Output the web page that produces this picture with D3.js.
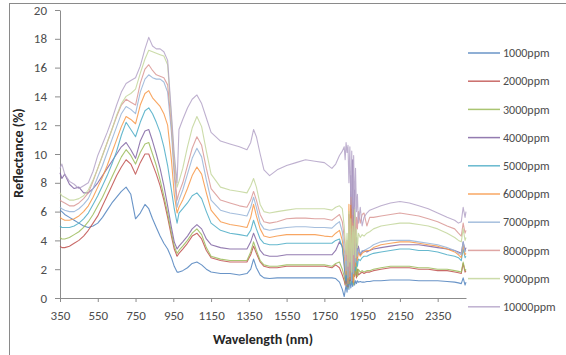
<!DOCTYPE html>
<html>
<head>
<meta charset="utf-8">
<script src="https://cdn.jsdelivr.net/npm/d3@7"></script>
<style>
  body { margin: 0; background: #fff; }
  svg { display: block; font-family: Carlito, Lato, 'Open Sans', sans-serif; }
</style>
</head>
<body>
<svg id="chart" width="566" height="355"></svg>
<script>
// Wavelength samples (nm), shared by every series
const wavelengths = [
  350, 360, 375, 400, 425, 450, 475, 500, 525, 550,
  575, 600, 625, 650, 675, 700, 725, 750, 775, 800,
  820, 840, 860, 880, 900, 920, 940, 955, 970, 980,
  1000, 1025, 1050, 1075, 1100, 1125, 1150, 1200, 1250, 1300,
  1340, 1360, 1375, 1390, 1410, 1430, 1460, 1500, 1550, 1600,
  1650, 1700, 1750, 1790, 1810, 1830, 1845, 1855, 1860, 1865,
  1870, 1875, 1880, 1885, 1890, 1895, 1900, 1905, 1910, 1915,
  1920, 1925, 1930, 1940, 1950, 1960, 1975, 1990, 2010, 2050,
  2100, 2150, 2200, 2250, 2300, 2350, 2400, 2440, 2460, 2475,
  2485, 2495, 2500
];

// Reflectance (%), one array per concentration
const r1000 = [
  6.1, 6.0, 5.8, 5.6, 5.4, 5.2, 5.0, 4.9, 5.0, 5.2,
  5.6, 6.1, 6.6, 7.0, 7.4, 7.7, 7.2, 5.5, 5.9, 6.5,
  6.2, 5.5, 4.9, 4.3, 3.8, 3.4, 2.8, 2.2, 1.8, 1.8,
  1.9, 2.1, 2.4, 2.5, 2.3, 2.0, 1.8, 1.7, 1.7, 1.6,
  1.7, 2.0, 2.7, 2.1, 1.6, 1.4, 1.35, 1.4, 1.4, 1.4,
  1.4, 1.4, 1.4, 1.4, 1.35, 1.1, 0.6, 0.1, 0.5, 0.9,
  0.4, 1.1, 0.6, 1.4, 0.7, 1.2, 0.8, 1.3, 0.9, 1.2,
  1.0, 1.2, 1.1, 1.15, 1.1, 1.1, 1.15, 1.15, 1.2, 1.2,
  1.25, 1.25, 1.25, 1.2, 1.2, 1.2, 1.15, 1.1, 1.05, 1.0,
  1.4, 0.9, 1.1
];
const r2000 = [
  3.6, 3.5, 3.5, 3.6, 3.8, 4.0, 4.3, 4.7, 5.2, 5.7,
  6.4, 7.1, 7.8, 8.5, 9.1, 9.6, 9.3, 8.6, 9.4, 10.0,
  10.0, 9.3, 8.6, 7.8, 6.8, 5.6, 4.3, 3.4, 2.9, 3.1,
  3.4, 3.8, 4.3, 4.5, 4.1, 3.3, 2.8, 2.6, 2.5, 2.5,
  2.5, 3.0, 3.6, 3.1, 2.5, 2.2, 2.1, 2.1, 2.2, 2.2,
  2.2, 2.2, 2.2, 2.1, 2.3, 2.1, 1.6, 1.2, 0.9, 1.6,
  0.8, 2.4, 1.0, 3.8, 1.2, 3.0, 1.1, 2.6, 1.5, 2.2,
  1.4, 2.0, 1.6, 1.7, 1.8, 1.7, 1.8, 1.8, 1.9, 2.0,
  2.1, 2.1, 2.1, 2.0, 2.0, 1.9, 1.9, 1.8, 1.75, 1.7,
  2.4, 1.8, 1.9
];
const r3000 = [
  4.2, 4.1, 4.1, 4.2, 4.4, 4.6, 4.9, 5.3, 5.8, 6.4,
  7.0, 7.7, 8.4, 9.1, 9.8, 10.3, 9.9, 9.3, 10.1, 10.7,
  10.8, 10.0, 9.2, 8.2, 7.1, 5.9, 4.5, 3.6, 3.1, 3.3,
  3.6, 4.0, 4.5, 4.8, 4.4, 3.5, 2.9, 2.7, 2.6, 2.6,
  2.6, 3.2, 3.9, 3.3, 2.6, 2.3, 2.2, 2.2, 2.3, 2.3,
  2.3, 2.3, 2.3, 2.2, 2.4, 2.5, 2.0, 1.5, 1.1, 0.9,
  2.0, 0.7, 4.8, 1.0, 6.2, 1.4, 5.5, 0.9, 3.5, 1.6,
  2.4, 1.5, 2.0, 1.8, 1.9, 1.8, 1.9, 1.9, 2.0, 2.1,
  2.2, 2.2, 2.2, 2.1, 2.1, 2.0, 2.0, 1.9, 1.85, 1.8,
  2.5, 1.9, 2.0
];
const r4000 = [
  8.7, 8.3, 8.6, 7.9, 7.6, 7.7, 7.3, 7.3, 7.6, 8.0,
  8.5, 9.0, 9.5, 10.0, 10.5, 10.8, 10.3, 9.7, 10.9, 11.6,
  11.7, 10.9, 10.0, 9.0, 7.8, 6.4, 4.9, 3.9, 3.4, 3.6,
  3.9, 4.3, 4.8, 5.1, 4.8, 4.1, 3.7, 3.5, 3.4, 3.4,
  3.4, 3.9, 4.5, 4.0, 3.3, 3.0, 2.9, 2.9, 3.0, 3.0,
  3.0, 3.0, 3.0, 3.0, 3.3, 3.9, 3.6, 2.2, 1.5, 1.0,
  2.2, 0.8, 5.8, 1.2, 8.5, 2.0, 9.6, 1.6, 7.5, 2.5,
  4.2, 2.8, 3.6, 3.0, 3.2, 3.3, 3.2, 3.3, 3.4, 3.5,
  3.6, 3.7, 3.7, 3.7, 3.6, 3.5, 3.4, 3.3, 3.2, 3.1,
  3.9, 3.3, 3.5
];
const r5000 = [
  5.0, 4.9, 4.9, 4.9, 5.0, 5.2, 5.5, 5.9, 6.5, 7.1,
  7.8, 8.5, 9.3, 10.2, 11.3, 12.2, 11.7, 11.2, 12.2, 13.0,
  13.2, 12.8, 12.2, 11.5, 10.5, 9.2, 7.5, 6.2, 5.2, 5.9,
  6.2, 6.6, 7.1, 7.3, 6.9, 6.0, 5.2, 4.7, 4.5, 4.4,
  4.3, 4.7, 5.4, 4.8, 4.1, 3.8, 3.7, 3.7, 3.8, 3.8,
  3.8, 3.8, 3.8, 3.8, 4.0, 4.1, 3.5, 2.5, 1.8, 1.2,
  2.6, 0.9, 3.6, 1.5, 4.4, 1.0, 3.8, 1.6, 3.2, 1.9,
  2.8, 2.2, 2.7, 2.6, 2.8, 2.9, 2.9, 3.0, 3.1, 3.2,
  3.3, 3.4, 3.4, 3.3, 3.3, 3.2, 3.0, 2.9, 2.8, 2.6,
  3.4, 2.8, 2.9
];
const r6000 = [
  5.6, 5.5, 5.4, 5.4, 5.5, 5.7, 6.0, 6.4, 7.0, 7.7,
  8.4, 9.2, 10.1, 11.0, 11.9, 12.6, 12.4, 12.1, 13.4, 14.2,
  14.4, 13.9, 13.6, 13.3, 12.8, 12.0, 9.6, 7.2, 5.9, 6.3,
  6.8, 7.6, 8.5, 9.1, 8.6, 7.3, 6.1, 5.3, 5.1, 5.0,
  4.9, 5.6, 6.5, 5.7, 4.8, 4.3, 4.2, 4.3, 4.4, 4.4,
  4.4, 4.4, 4.3, 4.25, 4.5, 4.7, 4.0, 3.0, 2.3, 1.6,
  3.0, 1.0, 6.5, 1.3, 7.0, 1.8, 5.2, 1.1, 4.6, 2.2,
  3.5, 2.6, 3.2, 2.9, 3.1, 3.2, 3.3, 3.3, 3.5, 3.7,
  3.8, 3.9, 3.9, 3.8, 3.7, 3.6, 3.4, 3.2, 3.0, 2.8,
  3.7, 3.0, 3.1
];
const r7000 = [
  6.3, 6.2, 6.1, 6.0, 6.0, 6.2, 6.5, 6.9, 7.6, 8.4,
  9.2, 10.1, 11.0, 11.9, 12.8, 13.3, 13.1, 12.8, 14.3, 15.2,
  15.5, 15.3, 15.2, 15.2, 15.0, 14.3, 11.5, 8.5, 6.3, 6.8,
  7.5, 8.6, 9.7, 10.4, 9.8, 8.2, 6.8, 6.1, 5.9, 5.8,
  5.7, 6.3, 7.0, 6.3, 5.2, 4.8, 4.7, 4.8, 4.9, 4.95,
  4.95, 4.9, 4.9, 4.85, 5.1, 5.3, 4.6, 3.4, 2.8, 1.9,
  3.2, 1.4, 4.4, 1.9, 3.7, 1.2, 4.6, 1.7, 3.9, 2.5,
  3.6, 2.9, 3.4, 3.1, 3.3, 3.3, 3.4, 3.5, 3.7, 3.9,
  4.0, 4.0, 4.0, 3.9, 3.8, 3.7, 3.5, 3.3, 3.1, 3.0,
  3.9, 3.2, 3.3
];
const r8000 = [
  6.8, 6.7, 6.6, 6.4, 6.4, 6.6, 6.9, 7.3, 8.1, 9.0,
  9.9, 10.8, 11.7, 12.6, 13.4, 13.8, 13.6, 13.4, 14.9, 15.9,
  16.2, 15.8, 15.5, 15.4, 15.3, 14.8, 12.0, 9.0, 6.8, 7.3,
  8.0, 9.2, 10.4, 11.2, 10.6, 9.0, 7.6, 6.8, 6.6, 6.4,
  6.3, 6.8, 7.4, 6.8, 5.8, 5.3, 5.2, 5.3, 5.5, 5.55,
  5.55, 5.5, 5.5, 5.4, 5.6, 5.8, 5.3, 4.2, 3.5, 2.6,
  4.0, 2.0, 5.2, 1.5, 4.8, 2.4, 6.2, 2.0, 5.5, 3.2,
  5.6, 4.8, 6.0, 5.2, 5.8, 5.9, 5.0, 5.6, 5.6, 5.7,
  5.8, 5.9, 5.8, 5.7, 5.5, 5.3, 5.0, 4.8, 4.5, 4.3,
  5.2, 4.5, 4.7
];
const r9000 = [
  7.3, 7.1, 7.0, 6.8, 6.8, 6.9, 7.1, 7.5, 8.2, 9.0,
  9.9, 10.8, 11.7, 12.7, 13.5, 14.0, 14.2, 14.5, 15.6, 16.6,
  17.2, 17.1, 17.0, 16.9, 16.8, 16.2, 12.5, 9.5, 7.7, 8.1,
  9.0, 10.5, 11.8, 12.6, 11.9, 10.2, 8.6, 7.7, 7.5, 7.4,
  7.3, 7.8, 8.3, 7.7, 6.5, 6.0, 5.9, 6.0, 6.1, 6.2,
  6.2, 6.2, 6.2, 6.1, 6.3, 6.4, 6.2, 5.0, 4.0, 3.0,
  4.5, 2.2, 6.0, 2.5, 5.5, 1.8, 5.0, 3.0, 6.3, 2.8,
  4.8, 3.5, 4.5, 4.2, 4.4, 4.3, 4.5, 4.6, 4.8, 5.0,
  5.1, 5.2, 5.2, 5.1, 5.0, 4.8, 4.5, 4.2, 4.0, 3.9,
  4.8, 4.0, 4.2
];
const r10000 = [
  9.0, 9.3, 8.6, 8.1, 7.9, 7.6, 7.8, 8.0, 8.8, 9.9,
  10.7, 11.5, 12.4, 13.4, 14.3, 14.9, 15.1, 15.3, 16.1, 17.3,
  18.1, 17.5, 17.3, 17.3, 17.1, 16.5, 12.8, 10.0, 8.0, 11.7,
  12.4, 13.2, 13.8, 14.1, 13.5, 12.5, 11.5, 10.9, 10.7, 10.5,
  10.3, 10.8, 11.7, 11.2, 10.0, 8.9, 8.5, 8.9, 9.2, 9.4,
  9.6, 9.5, 9.4, 9.0, 9.3, 9.9, 10.2, 10.5, 9.6, 10.8,
  10.1, 10.6, 8.0, 10.5, 6.5, 10.2, 5.8, 9.9, 6.2, 9.0,
  6.0, 7.2, 5.2, 6.3, 5.0, 5.6, 5.9, 6.1, 6.2, 6.4,
  6.6, 6.7, 6.6, 6.4, 6.2, 5.9, 5.6, 5.4, 5.2, 5.3,
  6.3, 5.6, 6.0
];

const seriesNames = ['1000ppm', '2000ppm', '3000ppm', '4000ppm', '5000ppm',
                     '6000ppm', '7000ppm', '8000ppm', '9000ppm', '10000ppm'];
const xTicks = [350, 550, 750, 950, 1150, 1350, 1550, 1750, 1950, 2150, 2350];
const yTicks = [0, 2, 4, 6, 8, 10, 12, 14, 16, 18, 20];

// Excel 2007 style series colours
const colors = ['#4f81bd', '#c0504d', '#9bbb59', '#8064a2', '#4bacc6',
                '#f79646', '#95b3d7', '#d99694', '#c3d69b', '#b3a2c7'];

const series = [r1000, r2000, r3000, r4000, r5000, r6000, r7000, r8000, r9000, r10000]
  .map((values, i) => ({ name: seriesNames[i], color: colors[i], values }));

// Select the rendering stage
const stage = d3.select('#chart');

// Scales
const x = d3.scaleLinear().domain([350, 2500]).range([60, 466]);
const y = d3.scaleLinear().domain([0, 20]).range([298, 10]);

// Chart area border
stage.append('rect')
  .attr('x', 9.5).attr('y', 3.5)
  .attr('width', 620).attr('height', 400)
  .style('fill', 'none')
  .style('stroke', '#8a8a8a');

// Axes
const xAxis = stage.append('g')
  .attr('transform', `translate(0,${y(0)})`)
  .call(d3.axisBottom(x).tickValues(xTicks).tickFormat(d3.format('d'))
    .tickSize(4).tickPadding(9).tickSizeOuter(0));

const yAxis = stage.append('g')
  .attr('transform', `translate(${x(350)},0)`)
  .call(d3.axisLeft(y).tickValues(yTicks).tickSize(5).tickPadding(8).tickSizeOuter(0));

[xAxis, yAxis].forEach(a => {
  a.select('.domain').style('stroke', '#8c8c8c');
  a.selectAll('.tick line').style('stroke', '#8c8c8c');
  a.selectAll('.tick text')
    .style('font-family', 'Carlito, Lato, sans-serif')
    .style('font-size', '13px')
    .style('fill', '#4d4d4d');
});

// Axis titles
stage.append('text')
  .attr('x', 263).attr('y', 344)
  .style('text-anchor', 'middle')
  .style('font-size', '14px')
  .style('font-weight', 'bold')
  .style('fill', '#262626')
  .text('Wavelength (nm)');

stage.append('text')
  .attr('transform', 'translate(23,153) rotate(-90)')
  .style('text-anchor', 'middle')
  .style('font-size', '14px')
  .style('font-weight', 'bold')
  .style('fill', '#262626')
  .text('Reflectance (%)');

// Render lines
const line = d3.line()
  .x((d, i) => x(wavelengths[i]))
  .y(d => y(d));

stage.append('g')
  .selectAll('path')
  .data(series)
  .join('path')
  .attr('d', s => line(s.values))
  .style('fill', 'none')
  .style('stroke', s => s.color)
  .style('stroke-opacity', 0.85)
  .style('stroke-width', 1.1)
  .style('stroke-linejoin', 'round');

// Legend
const legend = stage.append('g')
  .selectAll('g')
  .data(series)
  .join('g')
  .attr('transform', (s, i) => `translate(468,${53 + i * 28.2})`);

legend.append('line')
  .attr('x1', 0).attr('x2', 32)
  .style('stroke', s => s.color)
  .style('stroke-opacity', 0.85)
  .style('stroke-width', 1.5);

legend.append('text')
  .attr('x', 35)
  .attr('dy', '0.35em')
  .style('font-size', '12px')
  .style('fill', '#4d4d4d')
  .text(s => s.name);
</script>
</body>
</html>
